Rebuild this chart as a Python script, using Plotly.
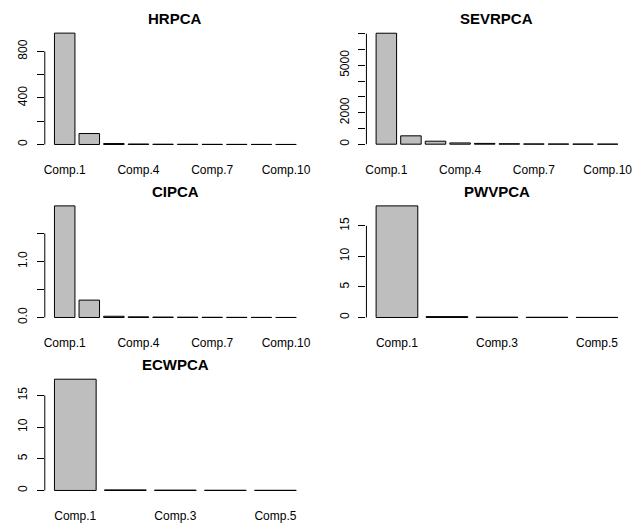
import plotly.graph_objects as go

# ---- data ----
comps10 = ["Comp.1", "Comp.2", "Comp.3", "Comp.4", "Comp.5",
           "Comp.6", "Comp.7", "Comp.8", "Comp.9", "Comp.10"]
comps5 = ["Comp.1", "Comp.2", "Comp.3", "Comp.4", "Comp.5"]

hr_vals = [957, 94, 8, 4, 2.5, 1.8, 1.2, 0.8, 0.5, 0.3]
sevr_vals = [7030, 530, 190, 80, 50, 28, 18, 12, 7, 4]
ci_vals = [1.99, 0.31, 0.022, 0.012, 0.008, 0.006, 0.004, 0.003, 0.002, 0.001]
pwv_vals = [18.26, 0.15, 0.06, 0.04, 0.02]
ecw_vals = [17.56, 0.09, 0.05, 0.03, 0.02]

hr_yticks = [0, 200, 400, 600, 800]
hr_ylabels = ["0", "", "400", "", "800"]
sevr_yticks = [0, 1000, 2000, 3000, 4000, 5000, 6000, 7000]
sevr_ylabels = ["0", "", "2000", "", "", "5000", "", ""]
ci_yticks = [0, 0.5, 1.0, 1.5]
ci_ylabels = ["0.0", "", "1.0", ""]
pwv_yticks = [0, 5, 10, 15]
pwv_ylabels = ["0", "5", "10", "15"]
ecw_yticks = [0, 5, 10, 15]
ecw_ylabels = ["0", "5", "10", "15"]

x10_shown = ["Comp.1", "Comp.4", "Comp.7", "Comp.10"]
x5_shown = ["Comp.1", "Comp.3", "Comp.5"]

titles = ["HRPCA", "SEVRPCA", "CIPCA", "PWVPCA", "ECWPCA"]

W, H = 638, 525
FONT = "Liberation Sans, Arial, sans-serif"

panels = [
    dict(title=titles[0], cats=comps10, vals=hr_vals, yt=hr_yticks, yl=hr_ylabels, xs=x10_shown,
         px=(44.2, 307.8), py=(28.8, 149.5)),
    dict(title=titles[1], cats=comps10, vals=sevr_vals, yt=sevr_yticks, yl=sevr_ylabels, xs=x10_shown,
         px=(368.9, 632.5), py=(28.9, 149.2)),
    dict(title=titles[2], cats=comps10, vals=ci_vals, yt=ci_yticks, yl=ci_ylabels, xs=x10_shown,
         px=(44.2, 307.8), py=(202.2, 323.2)),
    dict(title=titles[3], cats=comps5, vals=pwv_vals, yt=pwv_yticks, yl=pwv_ylabels, xs=x5_shown,
         px=(368.9, 632.5), py=(202.2, 323.2)),
    dict(title=titles[4], cats=comps5, vals=ecw_vals, yt=ecw_yticks, yl=ecw_ylabels, xs=x5_shown,
         px=(44.2, 307.8), py=(376.2, 496.8)),
]

fig = go.Figure()
layout = dict(width=W, height=H, margin=dict(l=0, r=0, t=0, b=0),
              paper_bgcolor="white", plot_bgcolor="white", showlegend=False,
              font=dict(family=FONT, size=12, color="black"),
              bargap=1 / 6, shapes=[], annotations=[])

for i, p in enumerate(panels, start=1):
    xa = "x" if i == 1 else f"x{i}"
    ya = "y" if i == 1 else f"y{i}"
    fig.add_trace(go.Bar(x=p["cats"], y=p["vals"], xaxis=xa, yaxis=ya,
                         marker=dict(color="#bebebe", line=dict(color="black", width=1)),
                         width=1 / 1.2, hoverinfo="skip"))
    n = len(p["cats"])
    span = 1.2 * n - 0.2
    ext = 0.04 * span
    r0 = ((0.2 - ext) - 0.7) / 1.2
    r1 = ((1.2 * n + ext) - 0.7) / 1.2
    ymax = max(p["vals"])
    layout[f"xaxis{i if i > 1 else ''}"] = dict(
        domain=[p["px"][0] / W, p["px"][1] / W], anchor=ya, type="category",
        categoryorder="array", categoryarray=p["cats"], range=[r0, r1],
        tickmode="array", tickvals=p["xs"], ticktext=p["xs"], ticks="",
        showline=False, showgrid=False, zeroline=False, ticklabelstandoff=12,
        tickfont=dict(size=12))
    layout[f"yaxis{i if i > 1 else ''}"] = dict(
        domain=[1 - p["py"][1] / H, 1 - p["py"][0] / H], anchor=xa,
        range=[-0.04 * ymax, 1.04 * ymax], tickmode="array",
        tickvals=p["yt"], ticktext=p["yl"], ticks="outside", ticklen=7,
        tickwidth=1, tickcolor="black", tickangle=-90, showline=False,
        showgrid=False, zeroline=False, ticklabelstandoff=5, tickfont=dict(size=12))
    layout["shapes"].append(dict(type="line", xref=f"{xa} domain", yref=ya,
                                 x0=0, x1=0, y0=p["yt"][0], y1=p["yt"][-1],
                                 line=dict(color="black", width=1)))
    layout["annotations"].append(dict(text=f"<b>{p['title']}</b>", xref=f"{xa} domain",
                                      yref=f"{ya} domain", x=0.5, y=1, yshift=10,
                                      xanchor="center", yanchor="middle", showarrow=False,
                                      font=dict(size=15, family=FONT)))

fig.update_layout(**layout)
fig.write_html("out.html", config={"displayModeBar": False, "staticPlot": True},
               post_script="document.body.style.margin='0';document.body.style.overflow='hidden';")
